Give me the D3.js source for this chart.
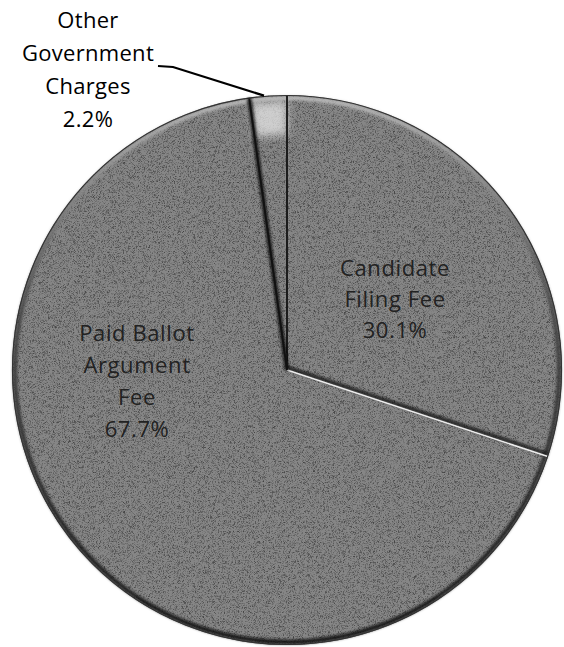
<!DOCTYPE html>
<html>
<head>
<meta charset="utf-8">
<script src="https://cdn.jsdelivr.net/npm/d3@7"></script>
<style>
  body { margin: 0; background: #fff; }
  svg { display: block; }
  text { font-family: "Open Sans", "Liberation Sans", sans-serif; }
</style>
</head>
<body>
<div id="chart"></div>
<script>
// data
var categories = ["Candidate Filing Fee", "Paid Ballot Argument Fee", "Other Government Charges"];
var shares = [30.1, 67.7, 2.2];
var labelLines = [
  ["Candidate", "Filing Fee", "30.1%"],
  ["Paid Ballot", "Argument", "Fee", "67.7%"],
  ["Other", "Government", "Charges", "2.2%"]
];

var width = 564, height = 647;
var cx = 287, cy = 370, radius = 275;

var svg = d3.select("#chart").append("svg")
  .attr("width", width)
  .attr("height", height);

var defs = svg.append("defs");

// scan grain
var grain = defs.append("filter").attr("id", "grain")
  .attr("x", 0).attr("y", 0).attr("width", "100%").attr("height", "100%");
grain.append("feTurbulence")
  .attr("type", "fractalNoise")
  .attr("baseFrequency", 2.2)
  .attr("numOctaves", 1)
  .attr("seed", 7);
grain.append("feColorMatrix")
  .attr("type", "matrix")
  .attr("values", "0 0 0 0 0  0 0 0 0 0  0 0 0 0 0  0 0 0 -3 1.6");

var soft = defs.append("filter").attr("id", "soft")
  .attr("x", "-20%").attr("y", "-20%").attr("width", "140%").attr("height", "140%");
soft.append("feGaussianBlur").attr("stdDeviation", 1.6);

var glow = defs.append("filter").attr("id", "glow")
  .attr("x", "-50%").attr("y", "-50%").attr("width", "200%").attr("height", "200%");
glow.append("feGaussianBlur").attr("stdDeviation", 4);

defs.append("clipPath").attr("id", "pieclip")
  .append("circle").attr("r", radius);

var g = svg.append("g")
  .attr("transform", "translate(" + cx + "," + cy + ")");

var pie = d3.pie().sort(null).value(function(d) { return d; });
var arcs = pie(shares);

var arc = d3.arc().innerRadius(0).outerRadius(radius);

// slices
g.selectAll(".slice")
  .data(arcs)
  .enter().append("path")
  .attr("class", "slice")
  .attr("d", arc)
  .attr("fill", "#868686");

// grain overlay
var grainLayer = g.append("g").attr("clip-path", "url(#pieclip)");
grainLayer.append("rect")
  .attr("x", -radius).attr("y", -radius)
  .attr("width", radius * 2).attr("height", radius * 2)
  .attr("filter", "url(#grain)")
  .attr("opacity", 0.5);

// light top of the thin slice
var small = arcs[2];
grainLayer.append("path")
  .attr("d", d3.arc().innerRadius(radius - 40).outerRadius(radius - 6)(small))
  .attr("fill", "#e6e6e6")
  .attr("opacity", 0.75)
  .attr("filter", "url(#glow)");

// rim shading
var rim = defs.append("linearGradient").attr("id", "rim")
  .attr("x1", 0).attr("y1", 0).attr("x2", 0).attr("y2", 1);
rim.append("stop").attr("offset", "0%").attr("stop-color", "#bdbdbd");
rim.append("stop").attr("offset", "40%").attr("stop-color", "#444");
rim.append("stop").attr("offset", "100%").attr("stop-color", "#0a0a0a");

g.append("circle")
  .attr("r", radius - 3)
  .attr("fill", "none")
  .attr("stroke", "url(#rim)")
  .attr("stroke-width", 4)
  .attr("filter", "url(#soft)");

g.append("circle")
  .attr("r", radius - 0.5)
  .attr("fill", "none")
  .attr("stroke", "#333")
  .attr("stroke-width", 1.2);

// slice borders
function edgePoint(a, r) {
  return [Math.sin(a) * r, -Math.cos(a) * r];
}

arcs.forEach(function(d, i) {
  var p = edgePoint(d.startAngle, radius - 1);
  if (i === 1) {
    // boundary between candidate and paid ballot: dark groove + highlight
    g.append("line")
      .attr("x1", 0).attr("y1", -2.5).attr("x2", p[0]).attr("y2", p[1] - 2.5)
      .attr("stroke", "#0a0a0a").attr("stroke-width", 3)
      .attr("filter", "url(#soft)");
    g.append("line")
      .attr("x1", 0).attr("y1", 0).attr("x2", p[0]).attr("y2", p[1])
      .attr("stroke", "#ececec").attr("stroke-width", 1.6);
  } else {
    g.append("line")
      .attr("x1", 0).attr("y1", 0).attr("x2", p[0]).attr("y2", p[1])
      .attr("stroke", "#0a0a0a").attr("stroke-width", 4)
      .attr("filter", "url(#soft)");
    g.append("line")
      .attr("x1", 0).attr("y1", 0).attr("x2", p[0]).attr("y2", p[1])
      .attr("stroke", "#111").attr("stroke-width", 1.8);
  }
});

// labels
var labelPos = [[395, 268], [137, 333], [88, 20]];
var lineGap = [31, 32, 33];

labelLines.forEach(function(lines, i) {
  var t = svg.append("text")
    .attr("text-anchor", "middle")
    .attr("font-size", 22)
    .attr("letter-spacing", i === 2 ? 0.3 : 0.6)
    .attr("fill", i === 2 ? "#000" : "#222");
  lines.forEach(function(s, j) {
    t.append("tspan")
      .attr("x", labelPos[i][0])
      .attr("y", labelPos[i][1] + j * lineGap[i])
      .attr("dy", "0.35em")
      .text(s);
  });
});

// leader line for the small slice
var tip = edgePoint((small.startAngle + small.endAngle) / 2, radius);
var leader = d3.line();
svg.append("path")
  .attr("d", leader([[158, 66], [173, 67], [cx + tip[0] - 4, cy + tip[1]]]))
  .attr("fill", "none")
  .attr("stroke", "#000")
  .attr("stroke-width", 2.2);
</script>
</body>
</html>
